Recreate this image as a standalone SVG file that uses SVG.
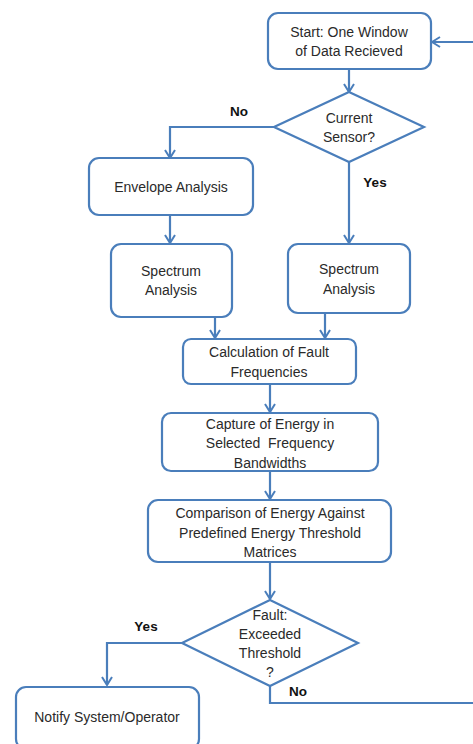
<svg xmlns="http://www.w3.org/2000/svg" width="473" height="744" viewBox="0 0 473 744">
<defs>
<style>
.box{fill:#fff;stroke:#4a7ebb;stroke-width:2.2}
.line{fill:none;stroke:#4a7ebb;stroke-width:2.2}
.t{font-family:"Liberation Sans",Arial,sans-serif;font-size:14px;fill:#2a2a2a;text-anchor:middle}
.lbl{font-family:"Liberation Sans",Arial,sans-serif;font-size:13.5px;font-weight:bold;fill:#111;text-anchor:middle}
</style>
<marker id="arr" viewBox="0 0 12 12" refX="11" refY="6" markerWidth="12" markerHeight="12" markerUnits="userSpaceOnUse" orient="auto">
<polyline points="3,1 11,6 3,11" fill="none" stroke="#4a7ebb" stroke-width="2"/>
</marker>
</defs>
<rect width="473" height="744" fill="#fff"/>
<g id="connectors">
<line class="line" x1="349" y1="69" x2="349" y2="92" marker-end="url(#arr)"/>
<polyline class="line" points="274,127 170,127 170,158" marker-end="url(#arr)"/>
<line class="line" x1="349" y1="162" x2="349" y2="243" marker-end="url(#arr)"/>
<line class="line" x1="170" y1="215" x2="170" y2="243" marker-end="url(#arr)"/>
<line class="line" x1="215" y1="317" x2="215" y2="338" marker-end="url(#arr)"/>
<line class="line" x1="325" y1="313" x2="325" y2="338" marker-end="url(#arr)"/>
<line class="line" x1="270" y1="384" x2="270" y2="412" marker-end="url(#arr)"/>
<line class="line" x1="270" y1="471" x2="270" y2="499" marker-end="url(#arr)"/>
<line class="line" x1="270" y1="562" x2="270" y2="599" marker-end="url(#arr)"/>
<polyline class="line" points="182,643 107,643 107,685" marker-end="url(#arr)"/>
<polyline class="line" points="270,686 270,703 475,703"/>
<line class="line" x1="475" y1="42" x2="432" y2="42" marker-end="url(#arr)"/>
<text class="lbl" x="239" y="116">No</text>
<text class="lbl" x="375" y="187">Yes</text>
<text class="lbl" x="146" y="631">Yes</text>
<text class="lbl" x="298" y="696">No</text>
</g>
<g id="start">
<rect class="box" x="268" y="13" width="163" height="56" rx="10"/>
<text class="t" x="349" y="37">Start: One Window</text>
<text class="t" x="349" y="56">of Data Recieved</text>
</g>
<g id="current-sensor">
<polygon class="box" points="349,92 424,127 349,162 274,127"/>
<text class="t" x="349" y="123">Current</text>
<text class="t" x="349" y="142">Sensor?</text>
</g>
<g id="envelope">
<rect class="box" x="89" y="158" width="164" height="57" rx="10"/>
<text class="t" x="171" y="192">Envelope Analysis</text>
</g>
<g id="spectrum-left">
<rect class="box" x="111" y="244" width="121" height="73" rx="10"/>
<text class="t" x="171" y="276">Spectrum</text>
<text class="t" x="171" y="295">Analysis</text>
</g>
<g id="spectrum-right">
<rect class="box" x="288" y="244" width="122" height="69" rx="10"/>
<text class="t" x="349" y="274">Spectrum</text>
<text class="t" x="349" y="294">Analysis</text>
</g>
<g id="calc">
<rect class="box" x="183" y="339" width="173" height="45" rx="8"/>
<text class="t" x="269" y="357">Calculation of Fault</text>
<text class="t" x="269" y="377">Frequencies</text>
</g>
<g id="capture">
<rect class="box" x="162" y="413" width="216" height="58" rx="9"/>
<text class="t" x="270" y="429">Capture of Energy in</text>
<text class="t" x="270" y="448" xml:space="preserve">Selected  Frequency</text>
<text class="t" x="270" y="468">Bandwidths</text>
</g>
<g id="comparison">
<rect class="box" x="148" y="500" width="243" height="62" rx="10"/>
<text class="t" x="270" y="518">Comparison of Energy Against</text>
<text class="t" x="270" y="538">Predefined Energy Threshold</text>
<text class="t" x="270" y="557">Matrices</text>
</g>
<g id="fault">
<polygon class="box" points="270,600 358,643 270,686 182,643"/>
<text class="t" x="270" y="620">Fault:</text>
<text class="t" x="270" y="639">Exceeded</text>
<text class="t" x="270" y="658">Threshold</text>
<text class="t" x="270" y="677">?</text>
</g>
<g id="notify">
<rect class="box" x="16" y="687" width="183" height="62" rx="10"/>
<text class="t" x="107" y="722">Notify System/Operator</text>
</g>
</svg>
